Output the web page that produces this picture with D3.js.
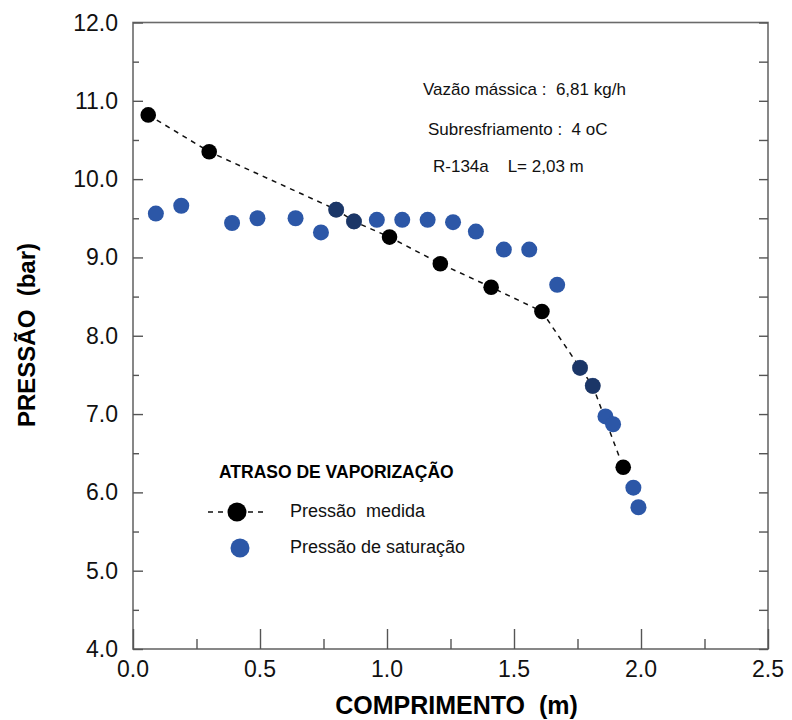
<!DOCTYPE html>
<html>
<head>
<meta charset="utf-8">
<script src="https://cdn.jsdelivr.net/npm/d3@7/dist/d3.min.js"></script>
<style>
  html, body { margin: 0; padding: 0; background: #fff; }
  svg { display: block; font-family: "Liberation Sans", Arial, Helvetica, sans-serif; }
  svg text { white-space: pre; }
</style>
</head>
<body>
<svg id="chart" width="792" height="720"></svg>
<script>
// Comprimento ao longo do tubo capilar (m) e pressão medida (bar)
const measuredX = [0.06, 0.30, 0.80, 0.87, 1.01, 1.21, 1.41, 1.61, 1.76, 1.81, 1.93];
const measuredP = [10.82, 10.35, 9.61, 9.46, 9.26, 8.92, 8.62, 8.31, 7.59, 7.36, 6.32];

// Pressão de saturação correspondente à temperatura medida (bar)
const satX = [0.09, 0.19, 0.39, 0.49, 0.64, 0.74, 0.80, 0.87, 0.96, 1.06, 1.16, 1.26,
              1.35, 1.46, 1.56, 1.67, 1.76, 1.81, 1.86, 1.89, 1.97, 1.99];
const satP = [9.56, 9.66, 9.44, 9.50, 9.50, 9.32, 9.61, 9.46, 9.48, 9.48, 9.48, 9.45,
              9.33, 9.10, 9.10, 8.65, 7.59, 7.36, 6.97, 6.87, 6.06, 5.81];

// Ticks e rótulos dos eixos
const xTicks = [0.0, 0.5, 1.0, 1.5, 2.0, 2.5];
const xMinorTicks = [0.25, 0.75, 1.25, 1.75, 2.25];
const yTicks = [4, 5, 6, 7, 8, 9, 10, 11, 12];
const yMinorTicks = [4.5, 5.5, 6.5, 7.5, 8.5, 9.5, 10.5, 11.5];

const notes = ["Vazão mássica :  6,81 kg/h", "Subresfriamento :  4 oC", "R-134a    L= 2,03 m"];
const legendTitle = "ATRASO DE VAPORIZAÇÃO";
const seriesNames = ["Pressão  medida", "Pressão de saturação"];

const svg = d3.select("#chart");
const plot = { left: 133, right: 768, top: 22.5, bottom: 649 };

const x = d3.scaleLinear().domain([0, 2.5]).range([plot.left, plot.right]);
const y = d3.scaleLinear().domain([4, 12]).range([plot.bottom, plot.top]);

const BLUE = "#2c57a7";
const AXIS = "#6a6a6a";

// Moldura do gráfico
svg.append("rect")
  .attr("x", plot.left).attr("y", plot.top)
  .attr("width", plot.right - plot.left).attr("height", plot.bottom - plot.top)
  .attr("fill", "none").attr("stroke", AXIS).attr("stroke-width", 1.6);

function styleAxis(g) {
  g.select(".domain").remove();
  g.selectAll(".tick line").attr("stroke", "#555").attr("stroke-width", 1.4);
}

// Eixo x: ticks principais, secundários e rótulos
svg.append("g").attr("transform", `translate(0,${plot.bottom})`)
  .call(d3.axisBottom(x).tickValues(xTicks).tickSize(-20).tickPadding(0).tickFormat(""))
  .call(styleAxis);
svg.append("g").attr("transform", `translate(0,${plot.bottom})`)
  .call(d3.axisBottom(x).tickValues(xMinorTicks).tickSize(-10).tickFormat(""))
  .call(styleAxis);
svg.append("g").selectAll("text").data(xTicks).join("text")
  .attr("x", d => x(d)).attr("y", plot.bottom + 28)
  .attr("text-anchor", "middle").attr("font-size", 23).attr("fill", "#111")
  .text(d => d.toFixed(1));

// Eixo y esquerdo
svg.append("g").attr("transform", `translate(${plot.left},0)`)
  .call(d3.axisLeft(y).tickValues(yTicks).tickSize(-10).tickFormat(""))
  .call(styleAxis);
svg.append("g").attr("transform", `translate(${plot.left},0)`)
  .call(d3.axisLeft(y).tickValues(yMinorTicks).tickSize(-6).tickFormat(""))
  .call(styleAxis);
svg.append("g").selectAll("text").data(yTicks).join("text")
  .attr("x", plot.left - 15).attr("y", d => y(d) + 8)
  .attr("text-anchor", "end").attr("font-size", 23).attr("fill", "#111")
  .text(d => d.toFixed(1));

// Eixo y direito (apenas ticks)
svg.append("g").attr("transform", `translate(${plot.right},0)`)
  .call(d3.axisRight(y).tickValues(yTicks.concat(yMinorTicks)).tickSize(-9).tickFormat(""))
  .call(styleAxis);

// Títulos dos eixos
svg.append("text")
  .attr("x", (plot.left + plot.right) / 2 + 6).attr("y", 714)
  .attr("text-anchor", "middle").attr("font-size", 25).attr("font-weight", "bold")
  .text("COMPRIMENTO  (m)");
svg.append("text")
  .attr("transform", "translate(35,335) rotate(-90)")
  .attr("text-anchor", "middle").attr("font-size", 24).attr("font-weight", "bold")
  .text("PRESSÃO  (bar)");

// Linha tracejada da pressão medida
const measured = measuredX.map((v, i) => ({ x: v, p: measuredP[i] }));
const saturation = satX.map((v, i) => ({ x: v, p: satP[i] }));

svg.append("path")
  .datum(measured)
  .attr("fill", "none").attr("stroke", "#111").attr("stroke-width", 1.5)
  .attr("stroke-dasharray", "5,5")
  .attr("d", d3.line().x(d => x(d.x)).y(d => y(d.p)));

// Pontos medidos
svg.append("g").selectAll("circle").data(measured).join("circle")
  .attr("cx", d => x(d.x)).attr("cy", d => y(d.p)).attr("r", 7.8)
  .attr("fill", "#000");

// Pontos de saturação; onde coincidem com um ponto medido ficam escurecidos
const coincides = d => measured.some(m => Math.abs(m.x - d.x) < 0.005 && Math.abs(m.p - d.p) < 0.005);
svg.append("g").selectAll("circle").data(saturation).join("circle")
  .attr("cx", d => x(d.x)).attr("cy", d => y(d.p)).attr("r", 8)
  .attr("fill", BLUE)
  .attr("fill-opacity", d => coincides(d) ? 0.62 : 1);

// Anotações das condições do ensaio
const noteX = [423, 428, 433];
const noteY = [95, 135, 172];
svg.append("g").selectAll("text").data(notes).join("text")
  .attr("x", (d, i) => noteX[i]).attr("y", (d, i) => noteY[i])
  .attr("font-size", 17).attr("fill", "#111")
  .text(d => d);

// Legenda
const lg = svg.append("g");
lg.append("text").attr("x", 219).attr("y", 478)
  .attr("font-size", 17.5).attr("font-weight", "bold").text(legendTitle);
lg.append("line").attr("x1", 208).attr("x2", 266).attr("y1", 512).attr("y2", 512)
  .attr("stroke", "#111").attr("stroke-width", 1.5).attr("stroke-dasharray", "5,5");
lg.append("circle").attr("cx", 237).attr("cy", 512).attr("r", 9.5).attr("fill", "#000");
lg.append("circle").attr("cx", 240).attr("cy", 548).attr("r", 9.5).attr("fill", BLUE);
lg.selectAll("text.item").data(seriesNames).join("text").attr("class", "item")
  .attr("x", 290).attr("y", (d, i) => [517, 553][i])
  .attr("font-size", 18).attr("fill", "#111")
  .text(d => d);
</script>
</body>
</html>
